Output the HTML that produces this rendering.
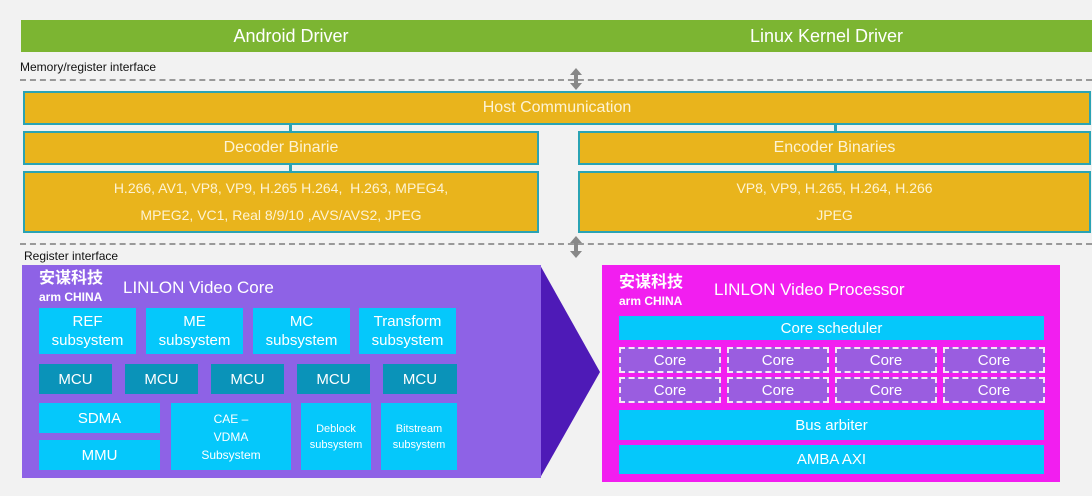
<!DOCTYPE html><html><head><meta charset="utf-8"><style>
body{margin:0;width:1092px;height:496px;background:#f2f2f2;position:relative;overflow:hidden;font-family:"Liberation Sans","Noto Sans CJK SC",sans-serif;}
.a{position:absolute;box-sizing:border-box;display:flex;align-items:center;justify-content:center;text-align:center;color:#fff;}
.g{background:#7cb532;font-size:18px;}
.y{background:#e9b41c;border:2px solid #2aa3b3;font-size:16px;color:#fdf3d4;}
.c{background:#05c8fb;font-size:15px;line-height:19px;}
.m{background:#0a93b9;font-size:15px;}
.k{background:#9a5de0;border:2px dashed #f6e6f6;font-size:15px;}
.t{position:absolute;font-size:12px;color:#111;}
.v{position:absolute;background:#2aa3b3;width:3px;}
</style></head><body>
<div class="a g" style="left:21px;top:20px;width:540px;height:32px">Android Driver</div>
<div class="a g" style="left:561px;top:20px;width:531px;height:32px">Linux Kernel Driver</div>
<div class="t" style="left:20px;top:60px">Memory/register interface</div>
<div style="position:absolute;left:20px;top:79px;width:1072px;border-top:2px dashed #999"></div>
<div class="t" style="left:24px;top:249px">Register interface</div>
<div style="position:absolute;left:20px;top:243px;width:1072px;border-top:2px dashed #999"></div>
<svg style="position:absolute;left:0;top:0" width="1092" height="496">
<g fill="#888"><polygon points="576,68 570,75 574,75 574,83 570,83 576,90 582,83 578,83 578,75 582,75"/>
<polygon points="576,236 570,243 574,243 574,251 570,251 576,258 582,251 578,251 578,243 582,243"/></g>
<polygon points="540,265 600,372 540,478" fill="#4e1ab7"/>
</svg>
<div class="a y" style="left:23px;top:91px;width:1068px;height:34px">Host Communication</div>
<div class="v" style="left:289px;top:124px;height:8px"></div>
<div class="v" style="left:834px;top:124px;height:8px"></div>
<div class="a y" style="left:23px;top:131px;width:516px;height:34px">Decoder Binarie</div>
<div class="a y" style="left:578px;top:131px;width:513px;height:34px">Encoder Binaries</div>
<div class="v" style="left:289px;top:164px;height:8px"></div>
<div class="v" style="left:834px;top:164px;height:8px"></div>
<div class="a y" style="left:23px;top:171px;width:516px;height:62px;font-size:14px;line-height:27px">H.266, AV1, VP8, VP9, H.265 H.264,&nbsp; H.263, MPEG4,<br>MPEG2, VC1, Real 8/9/10 ,AVS/AVS2, JPEG</div>
<div class="a y" style="left:578px;top:171px;width:513px;height:62px;font-size:14px;line-height:27px">VP8, VP9, H.265, H.264, H.266<br>JPEG</div>
<div style="position:absolute;left:22px;top:265px;width:519px;height:213px;background:#8e62e6"></div>
<div class="t" style="left:39px;top:270px;color:#fff;font-size:16px;font-weight:bold;line-height:18px">安谋科技<br><span style="font-size:12px">arm CHINA</span></div>
<div class="t" style="left:123px;top:278px;color:#fff;font-size:17px">LINLON Video Core</div>
<div class="a c" style="left:39px;top:308px;width:97px;height:46px">REF<br>subsystem</div>
<div class="a c" style="left:146px;top:308px;width:97px;height:46px">ME<br>subsystem</div>
<div class="a c" style="left:253px;top:308px;width:97px;height:46px">MC<br>subsystem</div>
<div class="a c" style="left:359px;top:308px;width:97px;height:46px">Transform<br>subsystem</div>
<div class="a m" style="left:39px;top:364px;width:73px;height:30px">MCU</div>
<div class="a m" style="left:125px;top:364px;width:73px;height:30px">MCU</div>
<div class="a m" style="left:211px;top:364px;width:73px;height:30px">MCU</div>
<div class="a m" style="left:297px;top:364px;width:73px;height:30px">MCU</div>
<div class="a m" style="left:383px;top:364px;width:74px;height:30px">MCU</div>
<div class="a c" style="left:39px;top:403px;width:121px;height:30px">SDMA</div>
<div class="a c" style="left:39px;top:440px;width:121px;height:30px">MMU</div>
<div class="a c" style="left:171px;top:403px;width:120px;height:67px;font-size:12px;line-height:18px">CAE –<br>VDMA<br>Subsystem</div>
<div class="a c" style="left:301px;top:403px;width:70px;height:67px;font-size:11px;line-height:16px">Deblock<br>subsystem</div>
<div class="a c" style="left:381px;top:403px;width:76px;height:67px;font-size:11px;line-height:16px">Bitstream<br>subsystem</div>
<div style="position:absolute;left:602px;top:265px;width:458px;height:217px;background:#f21ef0"></div>
<div class="t" style="left:619px;top:274px;color:#fff;font-size:16px;font-weight:bold;line-height:18px">安谋科技<br><span style="font-size:12px">arm CHINA</span></div>
<div class="t" style="left:714px;top:280px;color:#fff;font-size:17px">LINLON Video Processor</div>
<div class="a c" style="left:619px;top:316px;width:425px;height:24px">Core scheduler</div>
<div class="a k" style="left:619px;top:347px;width:102px;height:26px">Core</div>
<div class="a k" style="left:727px;top:347px;width:102px;height:26px">Core</div>
<div class="a k" style="left:835px;top:347px;width:102px;height:26px">Core</div>
<div class="a k" style="left:943px;top:347px;width:102px;height:26px">Core</div>
<div class="a k" style="left:619px;top:377px;width:102px;height:26px">Core</div>
<div class="a k" style="left:727px;top:377px;width:102px;height:26px">Core</div>
<div class="a k" style="left:835px;top:377px;width:102px;height:26px">Core</div>
<div class="a k" style="left:943px;top:377px;width:102px;height:26px">Core</div>
<div class="a c" style="left:619px;top:410px;width:425px;height:30px">Bus arbiter</div>
<div class="a c" style="left:619px;top:445px;width:425px;height:29px">AMBA AXI</div>
</body></html>
